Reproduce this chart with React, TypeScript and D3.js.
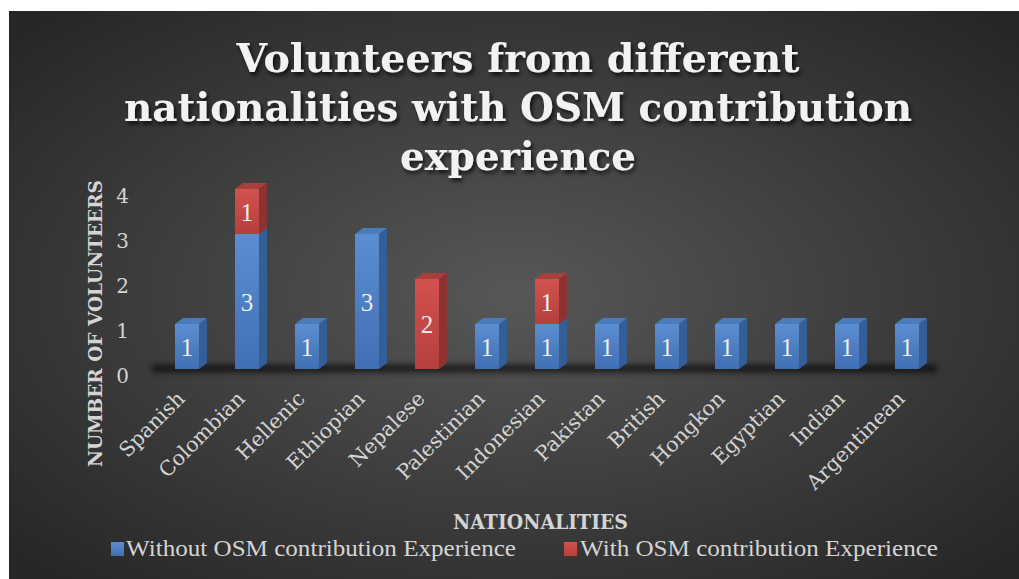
import * as d3 from "d3";

const categories = [
  "Spanish", "Colombian", "Hellenic", "Ethiopian", "Nepalese", "Palestinian",
  "Indonesian", "Pakistan", "British", "Hongkon", "Egyptian", "Indian", "Argentinean",
];
const withoutOSM = [1, 3, 1, 3, 0, 1, 1, 1, 1, 1, 1, 1, 1];
const withOSM = [0, 1, 0, 0, 2, 0, 1, 0, 0, 0, 0, 0, 0];
const yTicks = [0, 1, 2, 3, 4];
const seriesNames = ["Without OSM contribution Experience", "With OSM contribution Experience"];
const titleLines = ["Volunteers from different", "nationalities with OSM contribution", "experience"];

const W = 1019;
const H = 579;
const barW = 24;
const dx = 8;
const dy = 6;

const x = d3.scalePoint<string>().domain(categories).range([187, 907]);
const y = d3.scaleLinear().domain([0, 4]).range([369, 189]);

const palette = {
  blue: { front0: "#5b8ed1", front1: "#416fb3", side: "#345e98", top: "#4c7bbb" },
  red: { front0: "#d2524f", front1: "#b53f3c", side: "#8c3230", top: "#a7403d" },
};

export default function App() {
  const stacked = categories.map((c, i) => {
    const segs: { y0: number; y1: number; v: number; key: "blue" | "red" }[] = [];
    if (withoutOSM[i] > 0) segs.push({ y0: 0, y1: withoutOSM[i], v: withoutOSM[i], key: "blue" });
    if (withOSM[i] > 0)
      segs.push({ y0: withoutOSM[i], y1: withoutOSM[i] + withOSM[i], v: withOSM[i], key: "red" });
    return { c, segs };
  });

  const titleLens = [563, 788, 236];

  return (
    <svg
      width={W}
      height={H}
      style={{ position: "absolute", left: 0, top: 0 }}
      xmlns="http://www.w3.org/2000/svg"
    >
      <defs>
        <radialGradient id="bg" cx="50%" cy="50%" r="68%">
          <stop offset="0%" stopColor="#575757" />
          <stop offset="100%" stopColor="#262626" />
        </radialGradient>
        {(["blue", "red"] as const).map((k) => (
          <linearGradient key={k} id={`front-${k}`} x1="0" y1="0" x2="0" y2="1">
            <stop offset="0%" stopColor={palette[k].front0} />
            <stop offset="100%" stopColor={palette[k].front1} />
          </linearGradient>
        ))}
        <filter id="tshadow" x="-10%" y="-30%" width="120%" height="160%">
          <feDropShadow dx="2" dy="3" stdDeviation="2" floodColor="#000" floodOpacity="0.75" />
        </filter>
        <filter id="blur" x="-10%" y="-200%" width="120%" height="500%">
          <feGaussianBlur stdDeviation="3" />
        </filter>
      </defs>

      <rect x={0} y={0} width={W} height={H} fill="#fff" />
      <rect x={9} y={11} width={W - 9} height={H - 11} fill="url(#bg)" />

      {/* title */}
      <g
        fontFamily="'DejaVu Serif', serif"
        fontWeight="bold"
        fontSize={40}
        fill="#f2f2f2"
        textAnchor="middle"
        filter="url(#tshadow)"
      >
        {titleLines.map((t, i) => (
          <text
            key={t}
            x={518}
            y={72 + i * 49}
            textLength={titleLens[i]}
            lengthAdjust="spacingAndGlyphs"
          >
            {t}
          </text>
        ))}
      </g>

      {/* floor shadow */}
      <rect x={152} y={365} width={785} height={7} fill="#000" opacity={0.7} filter="url(#blur)" />

      {/* y axis ticks */}
      <g fontFamily="'DejaVu Serif', serif" fontSize={20} fill="#d4d4d4" textAnchor="end">
        {yTicks.map((t) => (
          <text key={t} x={129} y={y(t) + 14}>
            {t}
          </text>
        ))}
      </g>

      {/* y axis title */}
      <text
        transform="translate(102,323.5) rotate(-90)"
        fontFamily="'DejaVu Serif', serif"
        fontWeight="bold"
        fontSize={19}
        fill="#d4d4d4"
        textAnchor="middle"
        textLength={287}
        lengthAdjust="spacingAndGlyphs"
      >
        NUMBER OF VOLUNTEERS
      </text>

      {/* bars */}
      {stacked.map(({ c, segs }) => {
        const cx = x(c)!;
        const x0 = cx - barW / 2;
        const x1 = cx + barW / 2;
        return (
          <g key={c}>
            {segs.map((s) => {
              const yt = y(s.y1);
              const yb = y(s.y0);
              const p = palette[s.key];
              return (
                <g key={s.key}>
                  <polygon
                    points={`${x1},${yt} ${x1 + dx},${yt - dy} ${x1 + dx},${yb - dy} ${x1},${yb}`}
                    fill={p.side}
                  />
                  <polygon
                    points={`${x0},${yt} ${x0 + dx},${yt - dy} ${x1 + dx},${yt - dy} ${x1},${yt}`}
                    fill={p.top}
                  />
                  <rect x={x0} y={yt} width={barW} height={yb - yt} fill={`url(#front-${s.key})`} />
                  <text
                    x={cx}
                    y={(yt + yb) / 2 + 9}
                    textAnchor="middle"
                    fontFamily="'Liberation Serif', serif"
                    fontSize={25}
                    fill="#ececec"
                  >
                    {s.v}
                  </text>
                </g>
              );
            })}
          </g>
        );
      })}

      {/* category labels */}
      <g fontFamily="'DejaVu Serif', serif" fontSize={20.5} fill="#d4d4d4" textAnchor="end">
        {categories.map((c) => (
          <text key={c} transform={`translate(${x(c)! - 1},400) rotate(-45)`}>
            {c}
          </text>
        ))}
      </g>

      {/* x axis title */}
      <text
        x={540.5}
        y={529}
        fontFamily="'DejaVu Serif', serif"
        fontWeight="bold"
        fontSize={20}
        fill="#d4d4d4"
        textAnchor="middle"
        textLength={175}
        lengthAdjust="spacingAndGlyphs"
      >
        NATIONALITIES
      </text>

      {/* legend */}
      <g fontFamily="'Liberation Serif', serif" fontSize={24} fill="#d4d4d4">
        <rect x={111} y={542} width={13} height={14} fill="url(#front-blue)" />
        <text x={126} y={556} textLength={390} lengthAdjust="spacingAndGlyphs">
          {seriesNames[0]}
        </text>
        <rect x={564} y={542} width={13} height={14} fill="url(#front-red)" />
        <text x={580} y={556} textLength={358} lengthAdjust="spacingAndGlyphs">
          {seriesNames[1]}
        </text>
      </g>
    </svg>
  );
}
